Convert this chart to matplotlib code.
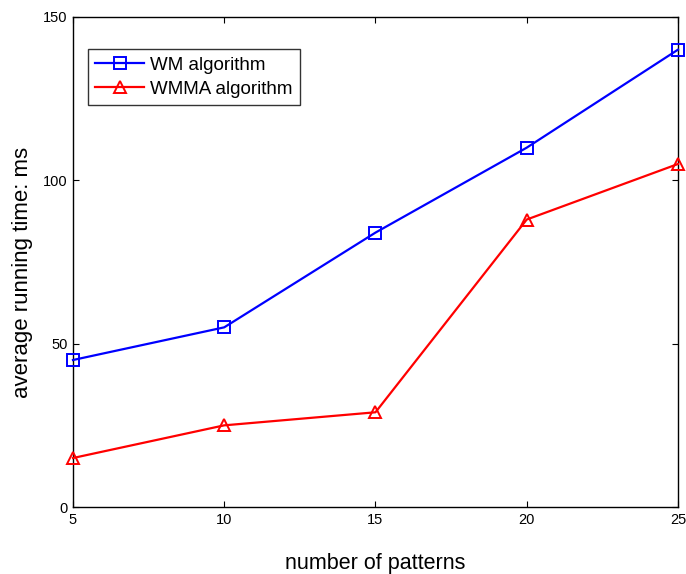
import matplotlib.pyplot as plt
import matplotlib as mpl

mpl.rcParams['font.family'] = ['Liberation Sans', 'DejaVu Sans']

patterns = [5, 10, 15, 20, 25]
wm_time = [45, 55, 84, 110, 140]
wmma_time = [15, 25, 29, 88, 105]
x_ticks = [5, 10, 15, 20, 25]
y_ticks = [0, 50, 100, 150]

fig = plt.figure(figsize=(6.86, 5.74), dpi=100)
ax = fig.add_axes([0.1064, 0.1167, 0.8819, 0.8537])

ax.plot(patterns, wm_time, color='#0000ff', marker='s', markersize=8,
        markerfacecolor='none', markeredgewidth=1.4, linewidth=1.6,
        label='WM algorithm', clip_on=False, zorder=3)
ax.plot(patterns, wmma_time, color='#ff0000', marker='^', markersize=9,
        markerfacecolor='none', markeredgewidth=1.4, linewidth=1.6,
        label='WMMA algorithm', clip_on=False, zorder=3)

ax.set_xlim(5, 25)
ax.set_ylim(0, 150)
ax.set_xticks(x_ticks)
ax.set_yticks(y_ticks)
ax.tick_params(direction='in', top=True, right=True, length=4, width=0.8, labelsize=10.5, pad=4)
for s in ax.spines.values():
    s.set_linewidth(1.0)

ax.set_xlabel('number of patterns', fontsize=15.5, labelpad=19)
ax.set_ylabel('average running time: ms', fontsize=16)
ax.yaxis.set_label_coords(-0.066, 0.478)

leg = ax.legend(loc='upper left', bbox_to_anchor=(0.0248, 0.934), fontsize=13.5,
                frameon=True, fancybox=False, edgecolor='black', handlelength=2.6,
                handletextpad=0.3, borderpad=0.4, labelspacing=0.36, borderaxespad=0)
leg.get_frame().set_linewidth(1.0)

plt.savefig('out.png', dpi=100)
